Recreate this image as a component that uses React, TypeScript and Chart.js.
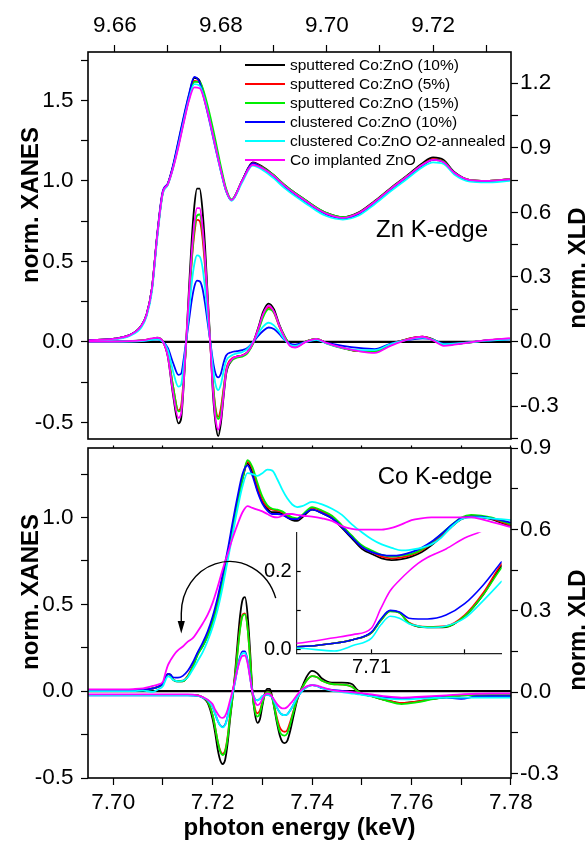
import React, { useEffect, useRef } from 'react';
import { Chart, registerables } from 'chart.js';

Chart.register(...registerables);

const FONT = "'Liberation Sans', Arial, Helvetica, sans-serif";

// ---------- samples ----------
const sampleLabels = [
  'sputtered Co:ZnO (10%)',
  'sputtered Co:ZnO (5%)',
  'sputtered Co:ZnO (15%)',
  'clustered Co:ZnO (10%)',
  'clustered Co:ZnO O2-annealed',
  'Co implanted ZnO',
];
const sampleColors = ['#000000', '#ff0000', '#00ee00', '#0000ff', '#00ffff', '#ff00ff'];
const sampleOrder = [5, 4, 3, 2, 1, 0];

// ---------- tick labels ----------
const znEnergyTickLabels = ['9.66', '9.68', '9.70', '9.72'];
const coEnergyTickLabels = ['7.70', '7.72', '7.74', '7.76', '7.78'];
const xanesTickLabels = ['-0.5', '0.0', '0.5', '1.0', '1.5'];
const xldTickLabels = ['-0.3', '0.0', '0.3', '0.6', '0.9', '1.2'];
const insetEnergyTickLabels = ['7.71'];
const insetXanesTickLabels = ['0.0', '0.2'];

// ---------- axis limits ----------
const znEnergyRange = [9.65495, 9.7347];
const znXanesRange = [-0.603, 1.80];
const znXldRange = [-0.453, 1.345];
const coEnergyRange = [7.69492, 7.78001];
const coXanesRange = [-0.5, 1.40];
const coXldRange = [-0.3166, 0.9001];
const insetEnergyRange = [7.70598, 7.71699];
const insetXanesRange = [-0.0098, 0.2995];

// ---------- Zn K-edge XANES ----------
const znXanesEnergy = [9.655, 9.660, 9.663, 9.665, 9.666, 9.667, 9.668, 9.669, 9.670, 9.671, 9.672, 9.673, 9.674, 9.675, 9.676, 9.677, 9.678, 9.679, 9.680, 9.681, 9.682, 9.684, 9.686, 9.688, 9.690, 9.692, 9.694, 9.696, 9.698, 9.700, 9.703, 9.706, 9.709, 9.712, 9.715, 9.718, 9.720, 9.722, 9.724, 9.727, 9.730, 9.7345];
const znXanesSp10 = [0.01, 0.02, 0.045, 0.10, 0.17, 0.33, 0.66, 0.92, 0.98, 1.09, 1.24, 1.39, 1.53, 1.64, 1.62, 1.51, 1.37, 1.22, 1.07, 0.94, 0.88, 1.00, 1.115, 1.085, 1.035, 0.975, 0.925, 0.88, 0.835, 0.80, 0.775, 0.805, 0.875, 0.955, 1.03, 1.11, 1.145, 1.13, 1.055, 1.005, 1.0, 1.01];
const znXanesSp5 = [0.01, 0.02, 0.045, 0.10, 0.17, 0.33, 0.66, 0.92, 0.98, 1.09, 1.23, 1.38, 1.52, 1.62, 1.61, 1.51, 1.37, 1.22, 1.07, 0.94, 0.88, 1.00, 1.11, 1.08, 1.03, 0.97, 0.92, 0.875, 0.83, 0.795, 0.77, 0.80, 0.87, 0.95, 1.025, 1.10, 1.135, 1.12, 1.05, 1.005, 1.0, 1.01];
const znXanesSp15 = [0.01, 0.02, 0.045, 0.10, 0.17, 0.33, 0.66, 0.92, 0.98, 1.085, 1.22, 1.37, 1.51, 1.615, 1.615, 1.53, 1.40, 1.25, 1.09, 0.95, 0.885, 1.00, 1.105, 1.08, 1.035, 0.975, 0.925, 0.88, 0.835, 0.80, 0.775, 0.80, 0.87, 0.95, 1.025, 1.10, 1.13, 1.12, 1.05, 1.005, 1.0, 1.01];
const znXanesCl10 = [0.01, 0.02, 0.045, 0.10, 0.17, 0.33, 0.67, 0.93, 0.985, 1.10, 1.25, 1.40, 1.54, 1.645, 1.61, 1.49, 1.35, 1.20, 1.06, 0.935, 0.88, 1.00, 1.11, 1.075, 1.025, 0.965, 0.915, 0.87, 0.825, 0.79, 0.765, 0.795, 0.865, 0.945, 1.02, 1.095, 1.13, 1.115, 1.05, 1.0, 0.995, 1.005];
const znXanesClO2 = [0.005, 0.015, 0.04, 0.09, 0.16, 0.31, 0.64, 0.91, 0.975, 1.08, 1.22, 1.37, 1.51, 1.60, 1.59, 1.50, 1.36, 1.21, 1.06, 0.935, 0.875, 0.99, 1.095, 1.065, 1.015, 0.955, 0.905, 0.86, 0.815, 0.78, 0.76, 0.785, 0.855, 0.935, 1.01, 1.085, 1.115, 1.105, 1.04, 0.995, 0.99, 1.0];
const znXanesImpl = [0.01, 0.02, 0.045, 0.10, 0.17, 0.33, 0.66, 0.92, 0.98, 1.08, 1.21, 1.36, 1.50, 1.58, 1.575, 1.49, 1.36, 1.21, 1.065, 0.94, 0.88, 1.00, 1.10, 1.075, 1.03, 0.97, 0.92, 0.875, 0.83, 0.795, 0.77, 0.80, 0.87, 0.95, 1.025, 1.10, 1.13, 1.115, 1.05, 1.005, 1.0, 1.01];

// ---------- Zn K-edge XLD ----------
const znXldEnergy = [9.655, 9.660, 9.665, 9.667, 9.668, 9.669, 9.670, 9.671, 9.672, 9.6725, 9.673, 9.6735, 9.674, 9.6745, 9.675, 9.6755, 9.676, 9.6765, 9.677, 9.6775, 9.678, 9.6785, 9.679, 9.6795, 9.680, 9.6805, 9.681, 9.682, 9.683, 9.684, 9.685, 9.686, 9.687, 9.688, 9.689, 9.690, 9.691, 9.692, 9.693, 9.694, 9.696, 9.698, 9.700, 9.703, 9.706, 9.709, 9.712, 9.715, 9.718, 9.720, 9.722, 9.724, 9.727, 9.730, 9.7345];
const znXldSp10 = [0.0, 0.0, 0.005, 0.012, 0.016, 0.002, -0.07, -0.25, -0.38, -0.36, -0.20, 0.02, 0.25, 0.47, 0.63, 0.71, 0.71, 0.62, 0.45, 0.22, 0.0, -0.24, -0.38, -0.44, -0.38, -0.26, -0.15, -0.09, -0.07, -0.065, -0.05, -0.01, 0.06, 0.14, 0.176, 0.15, 0.08, 0.025, -0.015, -0.025, 0.0, 0.012, -0.008, -0.03, -0.045, -0.045, -0.012, 0.01, 0.022, 0.01, -0.015, -0.012, -0.004, 0.005, 0.012];
const znXldSp5 = [0.0, 0.0, 0.004, 0.012, 0.015, 0.002, -0.06, -0.21, -0.32, -0.30, -0.17, 0.01, 0.19, 0.37, 0.50, 0.565, 0.56, 0.49, 0.35, 0.17, -0.01, -0.19, -0.31, -0.35, -0.31, -0.22, -0.13, -0.08, -0.07, -0.065, -0.05, -0.01, 0.05, 0.125, 0.158, 0.135, 0.07, 0.02, -0.015, -0.025, 0.0, 0.012, -0.008, -0.03, -0.045, -0.045, -0.012, 0.01, 0.022, 0.008, -0.015, -0.012, -0.004, 0.005, 0.012];
const znXldSp15 = [0.0, 0.0, 0.004, 0.012, 0.018, 0.004, -0.06, -0.21, -0.325, -0.315, -0.18, 0.0, 0.19, 0.38, 0.52, 0.585, 0.59, 0.52, 0.38, 0.19, 0.0, -0.19, -0.32, -0.36, -0.33, -0.23, -0.14, -0.09, -0.075, -0.07, -0.055, -0.015, 0.045, 0.115, 0.15, 0.135, 0.075, 0.025, -0.012, -0.025, 0.0, 0.012, -0.01, -0.032, -0.045, -0.048, -0.015, 0.008, 0.02, 0.008, -0.015, -0.012, -0.004, 0.005, 0.012];
const znXldCl10 = [0.0, 0.0, 0.002, 0.008, 0.01, 0.0, -0.03, -0.1, -0.155, -0.15, -0.08, 0.01, 0.1, 0.19, 0.255, 0.283, 0.28, 0.25, 0.18, 0.09, 0.0, -0.09, -0.15, -0.167, -0.15, -0.1, -0.065, -0.05, -0.045, -0.04, -0.03, -0.005, 0.025, 0.05, 0.065, 0.058, 0.035, 0.008, -0.01, -0.015, -0.002, 0.006, -0.006, -0.02, -0.03, -0.035, -0.01, 0.006, 0.015, 0.008, -0.01, -0.01, -0.003, 0.004, 0.01];
const znXldClO2 = [0.0, 0.0, 0.002, 0.008, 0.01, 0.0, -0.04, -0.14, -0.21, -0.2, -0.11, 0.01, 0.14, 0.27, 0.36, 0.40, 0.395, 0.35, 0.25, 0.12, 0.0, -0.12, -0.2, -0.226, -0.2, -0.14, -0.09, -0.065, -0.055, -0.05, -0.035, -0.005, 0.035, 0.07, 0.087, 0.075, 0.045, 0.01, -0.015, -0.02, -0.002, 0.008, -0.01, -0.03, -0.04, -0.04, -0.012, 0.008, 0.018, 0.008, -0.012, -0.01, -0.004, 0.004, 0.01];
const znXldImpl = [0.0, 0.0, 0.005, 0.014, 0.018, 0.003, -0.07, -0.24, -0.355, -0.335, -0.19, 0.02, 0.22, 0.41, 0.55, 0.62, 0.62, 0.54, 0.39, 0.19, -0.01, -0.22, -0.36, -0.41, -0.36, -0.25, -0.14, -0.085, -0.07, -0.065, -0.05, -0.01, 0.055, 0.13, 0.165, 0.14, 0.075, 0.02, -0.02, -0.028, -0.002, 0.012, -0.008, -0.03, -0.045, -0.053, -0.02, 0.008, 0.022, 0.005, -0.02, -0.015, -0.004, 0.006, 0.015];

// ---------- Co K-edge XANES ----------
const coXanesEnergy = [7.69492, 7.700, 7.704, 7.706, 7.708, 7.709, 7.710, 7.7105, 7.711, 7.7115, 7.712, 7.7125, 7.713, 7.714, 7.715, 7.716, 7.717, 7.718, 7.719, 7.720, 7.721, 7.722, 7.723, 7.724, 7.725, 7.726, 7.727, 7.728, 7.729, 7.730, 7.731, 7.732, 7.733, 7.734, 7.735, 7.736, 7.737, 7.738, 7.740, 7.742, 7.744, 7.746, 7.748, 7.750, 7.752, 7.754, 7.756, 7.758, 7.760, 7.762, 7.764, 7.766, 7.768, 7.770, 7.772, 7.774, 7.776, 7.778, 7.7800];
const coXanesSp10 = [0.005, 0.005, 0.006, 0.007, 0.016, 0.025, 0.043, 0.075, 0.099, 0.094, 0.068, 0.058, 0.056, 0.057, 0.085, 0.14, 0.215, 0.26, 0.32, 0.40, 0.51, 0.64, 0.78, 0.94, 1.09, 1.22, 1.31, 1.26, 1.16, 1.09, 1.05, 1.03, 1.03, 1.02, 1.0, 0.985, 0.98, 1.0, 1.045, 1.025, 0.995, 0.94, 0.88, 0.82, 0.79, 0.765, 0.755, 0.76, 0.775, 0.80, 0.84, 0.89, 0.945, 0.99, 1.005, 1.0, 0.99, 0.97, 0.95];
const coXanesSp5 = [0.005, 0.005, 0.006, 0.007, 0.016, 0.025, 0.043, 0.074, 0.098, 0.094, 0.069, 0.06, 0.058, 0.06, 0.088, 0.145, 0.22, 0.265, 0.325, 0.405, 0.51, 0.64, 0.78, 0.94, 1.09, 1.225, 1.32, 1.28, 1.18, 1.10, 1.06, 1.045, 1.04, 1.03, 1.01, 0.995, 0.99, 1.01, 1.055, 1.035, 1.005, 0.95, 0.89, 0.83, 0.80, 0.775, 0.765, 0.77, 0.785, 0.81, 0.85, 0.90, 0.95, 0.995, 1.01, 1.005, 0.995, 0.975, 0.955];
const coXanesSp15 = [0.005, 0.005, 0.006, 0.007, 0.016, 0.025, 0.043, 0.074, 0.097, 0.093, 0.068, 0.059, 0.057, 0.058, 0.085, 0.14, 0.21, 0.26, 0.32, 0.40, 0.50, 0.63, 0.77, 0.93, 1.08, 1.22, 1.33, 1.29, 1.20, 1.12, 1.07, 1.05, 1.045, 1.035, 1.015, 1.0, 0.995, 1.015, 1.06, 1.04, 1.01, 0.955, 0.895, 0.84, 0.81, 0.785, 0.775, 0.78, 0.79, 0.815, 0.855, 0.905, 0.955, 1.0, 1.015, 1.01, 1.0, 0.98, 0.96];
const coXanesCl10 = [0.005, 0.005, 0.006, 0.007, 0.016, 0.025, 0.045, 0.078, 0.1, 0.096, 0.08, 0.078, 0.078, 0.088, 0.117, 0.165, 0.225, 0.28, 0.345, 0.43, 0.54, 0.67, 0.81, 0.97, 1.12, 1.25, 1.30, 1.24, 1.15, 1.08, 1.04, 1.02, 1.02, 1.015, 1.0, 0.99, 0.99, 1.01, 1.045, 1.025, 0.995, 0.945, 0.885, 0.83, 0.80, 0.785, 0.78, 0.785, 0.80, 0.825, 0.86, 0.905, 0.955, 0.995, 1.005, 1.005, 0.995, 0.985, 0.97];
const coXanesClO2 = [0.0, 0.0, 0.0, 0.003, -0.004, 0.01, 0.029, 0.063, 0.085, 0.08, 0.066, 0.06, 0.056, 0.06, 0.08, 0.125, 0.175, 0.225, 0.29, 0.37, 0.47, 0.60, 0.75, 0.90, 1.05, 1.18, 1.255, 1.25, 1.24, 1.255, 1.275, 1.27, 1.22, 1.16, 1.11, 1.075, 1.06, 1.065, 1.09, 1.075, 1.05, 1.015, 0.96, 0.915, 0.875, 0.845, 0.825, 0.81, 0.815, 0.825, 0.845, 0.885, 0.945, 0.99, 1.0, 1.0, 0.995, 0.99, 0.985];
const coXanesImpl = [0.01, 0.01, 0.012, 0.016, 0.03, 0.038, 0.055, 0.105, 0.15, 0.177, 0.20, 0.22, 0.235, 0.257, 0.285, 0.305, 0.345, 0.39, 0.44, 0.51, 0.60, 0.70, 0.79, 0.88, 0.96, 1.03, 1.065, 1.055, 1.045, 1.035, 1.02, 1.005, 1.0, 1.01, 1.02, 1.02, 1.015, 1.01, 1.005, 0.995, 0.98, 0.95, 0.935, 0.93, 0.93, 0.93, 0.94, 0.96, 0.985, 0.995, 1.0, 1.0, 1.0, 1.0, 1.0, 0.99, 0.975, 0.96, 0.945];

// ---------- Co K-edge XLD ----------
const coXldEnergy = [7.69492, 7.700, 7.705, 7.710, 7.715, 7.717, 7.718, 7.719, 7.720, 7.7205, 7.721, 7.7215, 7.722, 7.7225, 7.723, 7.7235, 7.724, 7.7245, 7.725, 7.7255, 7.726, 7.7265, 7.727, 7.7275, 7.728, 7.7285, 7.729, 7.7295, 7.730, 7.7305, 7.731, 7.7315, 7.732, 7.7325, 7.733, 7.7335, 7.734, 7.7345, 7.735, 7.7355, 7.736, 7.737, 7.738, 7.739, 7.740, 7.741, 7.742, 7.744, 7.746, 7.748, 7.749, 7.750, 7.752, 7.755, 7.758, 7.761, 7.764, 7.767, 7.770, 7.773, 7.776, 7.7800];
const coXldSp10 = [-0.01, -0.01, -0.01, -0.01, -0.01, -0.012, -0.02, -0.04, -0.10, -0.15, -0.21, -0.25, -0.265, -0.25, -0.19, -0.10, -0.02, 0.07, 0.18, 0.28, 0.34, 0.35, 0.29, 0.16, 0.0, -0.08, -0.113, -0.10, -0.05, -0.005, 0.012, 0.012, -0.02, -0.07, -0.12, -0.16, -0.183, -0.188, -0.18, -0.15, -0.11, -0.03, 0.02, 0.06, 0.078, 0.07, 0.05, 0.035, 0.035, 0.03, 0.01, -0.005, -0.015, -0.03, -0.04, -0.035, -0.025, -0.018, -0.012, -0.01, -0.01, -0.01];
const coXldSp5 = [-0.01, -0.01, -0.01, -0.01, -0.01, -0.012, -0.02, -0.035, -0.085, -0.13, -0.18, -0.215, -0.228, -0.215, -0.165, -0.085, -0.015, 0.06, 0.15, 0.235, 0.285, 0.29, 0.24, 0.13, 0.0, -0.06, -0.078, -0.068, -0.035, -0.008, 0.0, -0.002, -0.02, -0.06, -0.1, -0.13, -0.143, -0.146, -0.14, -0.115, -0.085, -0.025, 0.015, 0.045, 0.059, 0.055, 0.042, 0.03, 0.028, 0.02, 0.005, -0.005, -0.015, -0.03, -0.04, -0.035, -0.025, -0.018, -0.012, -0.01, -0.01, -0.01];
const coXldSp15 = [-0.01, -0.01, -0.01, -0.01, -0.01, -0.012, -0.02, -0.035, -0.085, -0.13, -0.18, -0.218, -0.232, -0.22, -0.17, -0.09, -0.02, 0.055, 0.145, 0.23, 0.28, 0.287, 0.24, 0.13, 0.0, -0.07, -0.09, -0.078, -0.04, -0.01, 0.0, -0.003, -0.025, -0.065, -0.11, -0.145, -0.158, -0.16, -0.152, -0.125, -0.09, -0.025, 0.015, 0.045, 0.059, 0.055, 0.042, 0.03, 0.028, 0.02, 0.005, -0.005, -0.016, -0.032, -0.044, -0.038, -0.027, -0.018, -0.012, -0.01, -0.01, -0.01];
const coXldCl10 = [-0.012, -0.012, -0.012, -0.012, -0.012, -0.014, -0.02, -0.03, -0.055, -0.08, -0.105, -0.122, -0.128, -0.12, -0.09, -0.045, -0.005, 0.04, 0.09, 0.13, 0.15, 0.15, 0.12, 0.06, 0.0, -0.025, -0.03, -0.025, -0.015, -0.01, -0.01, -0.012, -0.02, -0.04, -0.06, -0.075, -0.083, -0.085, -0.082, -0.07, -0.055, -0.02, 0.005, 0.02, 0.026, 0.022, 0.015, 0.008, 0.005, 0.0, -0.005, -0.008, -0.012, -0.02, -0.022, -0.02, -0.018, -0.02, -0.025, -0.016, -0.015, -0.015];
const coXldClO2 = [-0.012, -0.012, -0.012, -0.012, -0.012, -0.014, -0.02, -0.03, -0.055, -0.08, -0.105, -0.123, -0.13, -0.122, -0.092, -0.047, -0.007, 0.037, 0.087, 0.125, 0.143, 0.145, 0.115, 0.058, 0.0, -0.025, -0.03, -0.025, -0.015, -0.01, -0.01, -0.012, -0.02, -0.04, -0.06, -0.075, -0.083, -0.085, -0.082, -0.07, -0.055, -0.02, 0.005, 0.02, 0.026, 0.022, 0.015, 0.005, 0.0, -0.005, -0.007, -0.01, -0.015, -0.024, -0.027, -0.025, -0.022, -0.02, -0.02, -0.02, -0.02, -0.02];
const coXldImpl = [-0.008, -0.008, -0.008, -0.008, -0.008, -0.012, -0.018, -0.028, -0.045, -0.065, -0.08, -0.092, -0.095, -0.088, -0.065, -0.03, 0.005, 0.045, 0.085, 0.118, 0.134, 0.135, 0.108, 0.055, 0.0, -0.035, -0.048, -0.042, -0.025, -0.01, -0.005, -0.008, -0.018, -0.032, -0.045, -0.055, -0.06, -0.06, -0.055, -0.045, -0.035, -0.01, 0.01, 0.022, 0.026, 0.024, 0.018, 0.007, 0.003, 0.0, -0.002, -0.004, -0.008, -0.016, -0.02, -0.018, -0.015, -0.012, -0.008, -0.006, -0.005, -0.005];

// arrow anchor in (energy, XANES) coordinates of the Co panel
const arrowAnchor = { energy: 7.7234, xanes: 0.447 };

const znXanesSeries = [znXanesSp10, znXanesSp5, znXanesSp15, znXanesCl10, znXanesClO2, znXanesImpl];
const znXldSeries = [znXldSp10, znXldSp5, znXldSp15, znXldCl10, znXldClO2, znXldImpl];
const coXanesSeries = [coXanesSp10, coXanesSp5, coXanesSp15, coXanesCl10, coXanesClO2, coXanesImpl];
const coXldSeries = [coXldSp10, coXldSp5, coXldSp15, coXldCl10, coXldClO2, coXldImpl];

function pts(xs: number[], ys: number[]) {
  return xs.map((x, i) => ({ x, y: ys[i] }));
}

function lineSets(xs: number[], series: number[][], xAxisID: string, yAxisID: string, width: number, withLabel: boolean) {
  return series.map((ys, i) => ({
    label: withLabel ? sampleLabels[i] : '',
    data: pts(xs, ys),
    borderColor: sampleColors[i],
    backgroundColor: sampleColors[i],
    borderWidth: width,
    pointRadius: 0,
    fill: false,
    cubicInterpolationMode: 'monotone',
    xAxisID,
    yAxisID,
    order: sampleOrder[i],
  }));
}

function axis(position: string, range: number[], step: number, labels: string[], size: number, tickLength: number, padding: number, fontSize: number, extra: any = {}) {
  const labelVals = labels.map((s) => ({ s, v: parseFloat(s) }));
  return {
    type: 'linear',
    position,
    min: range[0],
    max: range[1],
    afterFit: (s: any) => {
      if (position === 'left' || position === 'right') s.width = size;
      else s.height = size;
    },
    grid: { drawOnChartArea: false, drawTicks: true, tickLength, tickColor: '#000', tickWidth: 1.2 },
    border: { display: false },
    ticks: {
      stepSize: step,
      includeBounds: false,
      autoSkip: false,
      maxRotation: 0,
      minRotation: 0,
      padding,
      color: '#000',
      font: { family: FONT, size: fontSize },
      callback: (v: any) => {
        const val = Number(v);
        const hit = labelVals.find((l) => Math.abs(l.v - val) < step * 1e-3);
        return hit ? hit.s : '';
      },
    },
    ...extra,
  };
}

function vText(ctx: CanvasRenderingContext2D, text: string, cx: number, cy: number, font: string) {
  ctx.save();
  ctx.translate(cx, cy);
  ctx.rotate(-Math.PI / 2);
  ctx.font = font;
  ctx.fillStyle = '#000';
  ctx.textAlign = 'center';
  ctx.textBaseline = 'middle';
  ctx.fillText(text, 0, 0);
  ctx.restore();
}

function hText(ctx: CanvasRenderingContext2D, text: string, x: number, y: number, font: string, align: CanvasTextAlign = 'center', baseline: CanvasTextBaseline = 'alphabetic') {
  ctx.save();
  ctx.font = font;
  ctx.fillStyle = '#000';
  ctx.textAlign = align;
  ctx.textBaseline = baseline;
  ctx.fillText(text, x, y);
  ctx.restore();
}

function panelPlugin(zeroAxis: string | null, frame: boolean, draw: (chart: any) => void) {
  return {
    id: 'panelDecor',
    beforeDatasetsDraw(chart: any) {
      if (!zeroAxis) return;
      const { ctx, chartArea: a } = chart;
      const y = chart.scales[zeroAxis].getPixelForValue(0);
      ctx.save();
      ctx.strokeStyle = '#000';
      ctx.lineWidth = 2.2;
      ctx.beginPath();
      ctx.moveTo(a.left, y);
      ctx.lineTo(a.right, y);
      ctx.stroke();
      ctx.restore();
    },
    afterDraw(chart: any) {
      const { ctx, chartArea: a } = chart;
      if (frame) {
        ctx.save();
        ctx.strokeStyle = '#000';
        ctx.lineWidth = 1.6;
        ctx.strokeRect(a.left, a.top, a.right - a.left, a.bottom - a.top);
        ctx.restore();
      }
      draw(chart);
    },
  };
}

const TICK_FS = 22.5;
const TITLE_FONT = `bold 24px ${FONT}`;

function topConfig(): any {
  return {
    type: 'line',
    data: {
      datasets: [
        ...lineSets(znXanesEnergy, znXanesSeries, 'x', 'yL', 1.8, true),
        ...lineSets(znXldEnergy, znXldSeries, 'x', 'yR', 1.8, false),
      ],
    },
    options: {
      responsive: false,
      animation: false,
      events: [],
      layout: { padding: { left: 0, right: 0, top: 0, bottom: 12 } },
      plugins: { legend: { display: false }, tooltip: { enabled: false } },
      scales: {
        x: axis('top', znEnergyRange, 0.01, znEnergyTickLabels, 52, 7, 5.5, TICK_FS),
        yL: axis('left', znXanesRange, 0.25, xanesTickLabels, 88, 7, 7.5, TICK_FS),
        yR: axis('right', znXldRange, 0.15, xldTickLabels, 76, 7, 2, TICK_FS),
      },
    },
    plugins: [
      panelPlugin('yL', true, (chart: any) => {
        const ctx = chart.ctx as CanvasRenderingContext2D;
        vText(ctx, 'norm. XANES', 31, 205, TITLE_FONT);
        vText(ctx, 'norm. XLD', 578, 268, TITLE_FONT);
        hText(ctx, 'Zn K-edge', 432, 237, `24px ${FONT}`);
        // legend
        for (let i = 0; i < sampleLabels.length; i++) {
          const y = 65 + i * 19;
          ctx.save();
          ctx.strokeStyle = sampleColors[i];
          ctx.lineWidth = 2;
          ctx.beginPath();
          ctx.moveTo(245, y);
          ctx.lineTo(285, y);
          ctx.stroke();
          ctx.restore();
          hText(ctx, chart.data.datasets[i].label, 290, y + 0.5, `15.5px ${FONT}`, 'left', 'middle');
        }
      }),
    ],
  };
}

function bottomConfig(): any {
  return {
    type: 'line',
    data: {
      datasets: [
        ...lineSets(coXanesEnergy, coXanesSeries, 'x', 'yL', 1.8, true),
        ...lineSets(coXldEnergy, coXldSeries, 'x', 'yR', 1.8, false),
      ],
    },
    options: {
      responsive: false,
      animation: false,
      events: [],
      layout: { padding: 0 },
      plugins: { legend: { display: false }, tooltip: { enabled: false } },
      scales: {
        x: axis('bottom', coEnergyRange, 0.01, coEnergyTickLabels, 64, 7, 4.5, TICK_FS),
        xTop: axis('top', coEnergyRange, 0.01, [], 28, 2.5, 0, 10),
        yL: axis('left', coXanesRange, 0.25, xanesTickLabels, 88, 7, 7.5, TICK_FS),
        yR: axis('right', coXldRange, 0.15, xldTickLabels, 76, 7, 2, TICK_FS),
      },
    },
    plugins: [
      panelPlugin('yL', true, (chart: any) => {
        const ctx = chart.ctx as CanvasRenderingContext2D;
        vText(ctx, 'norm. XANES', 31, 172, TITLE_FONT);
        vText(ctx, 'norm. XLD', 578, 210, TITLE_FONT);
        hText(ctx, 'Co K-edge', 435, 63.5, `24px ${FONT}`);
        hText(ctx, 'photon energy (keV)', 299.5, 415, TITLE_FONT);
        // curved arrow
        const cx = chart.scales.x.getPixelForValue(arrowAnchor.energy);
        const cy = chart.scales.yL.getPixelForValue(arrowAnchor.xanes);
        const rx = 48.3;
        const ry = 52;
        ctx.save();
        ctx.strokeStyle = '#000';
        ctx.fillStyle = '#000';
        ctx.lineWidth = 1.4;
        ctx.beginPath();
        ctx.ellipse(cx, cy, rx, ry, 0, -0.3, -Math.PI, true);
        ctx.lineTo(cx - rx, cy + 9);
        ctx.stroke();
        ctx.beginPath();
        ctx.moveTo(cx - rx - 3.6, cy + 7.5);
        ctx.lineTo(cx - rx + 3.6, cy + 7.5);
        ctx.lineTo(cx - rx, cy + 20);
        ctx.closePath();
        ctx.fill();
        ctx.restore();
      }),
    ],
  };
}

function insetConfig(): any {
  return {
    type: 'line',
    data: { datasets: lineSets(coXanesEnergy, coXanesSeries, 'x', 'y', 1.6, true) },
    options: {
      responsive: false,
      animation: false,
      events: [],
      layout: { padding: { left: 0, right: 18.3, top: 22.3, bottom: 0 } },
      plugins: { legend: { display: false }, tooltip: { enabled: false } },
      scales: {
        x: axis('bottom', insetEnergyRange, 0.005, insetEnergyTickLabels, 36.7, -4, 6, 20, {
          border: { display: true, color: '#222', width: 1.2 },
        }),
        y: axis('left', insetXanesRange, 0.1, insetXanesTickLabels, 56.7, -4, 9, 20, {
          border: { display: true, color: '#222', width: 1.2 },
        }),
      },
    },
  };
}

export default function App() {
  const topRef = useRef<HTMLCanvasElement>(null);
  const botRef = useRef<HTMLCanvasElement>(null);
  const insRef = useRef<HTMLCanvasElement>(null);

  useEffect(() => {
    const charts = [
      new Chart(topRef.current as HTMLCanvasElement, topConfig()),
      new Chart(botRef.current as HTMLCanvasElement, bottomConfig()),
      new Chart(insRef.current as HTMLCanvasElement, insetConfig()),
    ];
    return () => charts.forEach((c) => c.destroy());
  }, []);

  return (
    <div style={{ position: 'absolute', left: 0, top: 0, width: 587, height: 842, background: '#fff', overflow: 'hidden' }}>
      <canvas ref={topRef} width={587} height={460} style={{ position: 'absolute', left: 0, top: 0, width: 587, height: 460 }} />
      <canvas ref={botRef} width={587} height={422} style={{ position: 'absolute', left: 0, top: 420, width: 587, height: 422 }} />
      <canvas ref={insRef} width={280} height={180} style={{ position: 'absolute', left: 240, top: 510, width: 280, height: 180 }} />
    </div>
  );
}
